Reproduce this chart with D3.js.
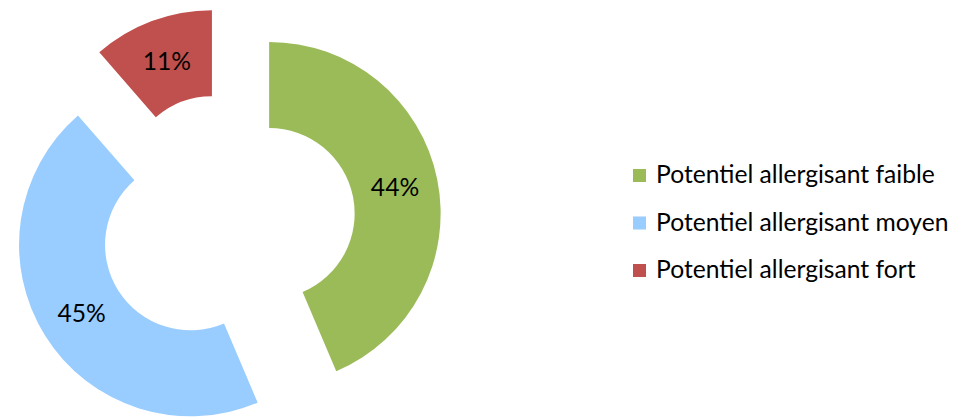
<!DOCTYPE html>
<html>
<head>
<meta charset="utf-8">
<script src="https://cdn.jsdelivr.net/npm/d3@7"></script>
<style>
html,body{margin:0;padding:0;background:#fff;}
svg{display:block;}
</style>
</head>
<body>
<svg id="chart" width="956" height="419"></svg>
<script>
const categories = ["Potentiel allergisant faible", "Potentiel allergisant moyen", "Potentiel allergisant fort"];
const values = [43.6, 45.0, 11.4];
const colors = ["#9BBB59", "#99CCFF", "#C0504D"];

const svg = d3.select("#chart");
const W = 956, H = 419;
const cx = 227, cy = 222;
const outerR = 171.5, innerR = 85.5;
const explode = 43;
const fontFamily = "Lato, 'Open Sans', sans-serif";

const data = categories.map((c, i) => ({ name: c, value: values[i], color: colors[i] }));
const pie = d3.pie().sort(null).value(d => d.value).startAngle(0).endAngle(2 * Math.PI);
const arc = d3.arc().innerRadius(innerR).outerRadius(outerR);
const arcs = pie(data);

// font size fitting to emulate Calibri metrics
const probe = svg.append("text").attr("font-family", fontFamily).attr("font-size", 100).text(categories[0]);
const w100 = probe.node().getComputedTextLength();
probe.remove();
const fs = 100 * 279 / w100;

const g = svg.append("g").attr("transform", `translate(${cx},${cy})`);
const slices = g.selectAll("g.slice").data(arcs).join("g")
  .attr("class", "slice")
  .attr("transform", d => {
    const m = (d.startAngle + d.endAngle) / 2;
    return `translate(${explode * Math.sin(m)},${-explode * Math.cos(m)})`;
  });
slices.append("path").attr("d", arc).attr("fill", d => d.data.color);
slices.append("text")
  .attr("transform", d => `translate(${arc.centroid(d)})`)
  .attr("text-anchor", "middle")
  .attr("dy", "0.35em")
  .attr("font-family", fontFamily)
  .attr("font-size", fs)
  .attr("fill", "#000")
  .text(d => Math.round(d.data.value) + "%");

const legend = svg.append("g").attr("transform", "translate(633,169)");
const rowH = 47.5;
const items = legend.selectAll("g").data(data).join("g")
  .attr("transform", (d, i) => `translate(0,${i * rowH})`);
items.append("rect").attr("width", 13).attr("height", 13).attr("fill", d => d.color);
items.append("text")
  .attr("x", 23).attr("y", 14)
  .attr("font-family", fontFamily)
  .attr("font-size", fs)
  .attr("fill", "#000")
  .text(d => d.name);
</script>
</body>
</html>
